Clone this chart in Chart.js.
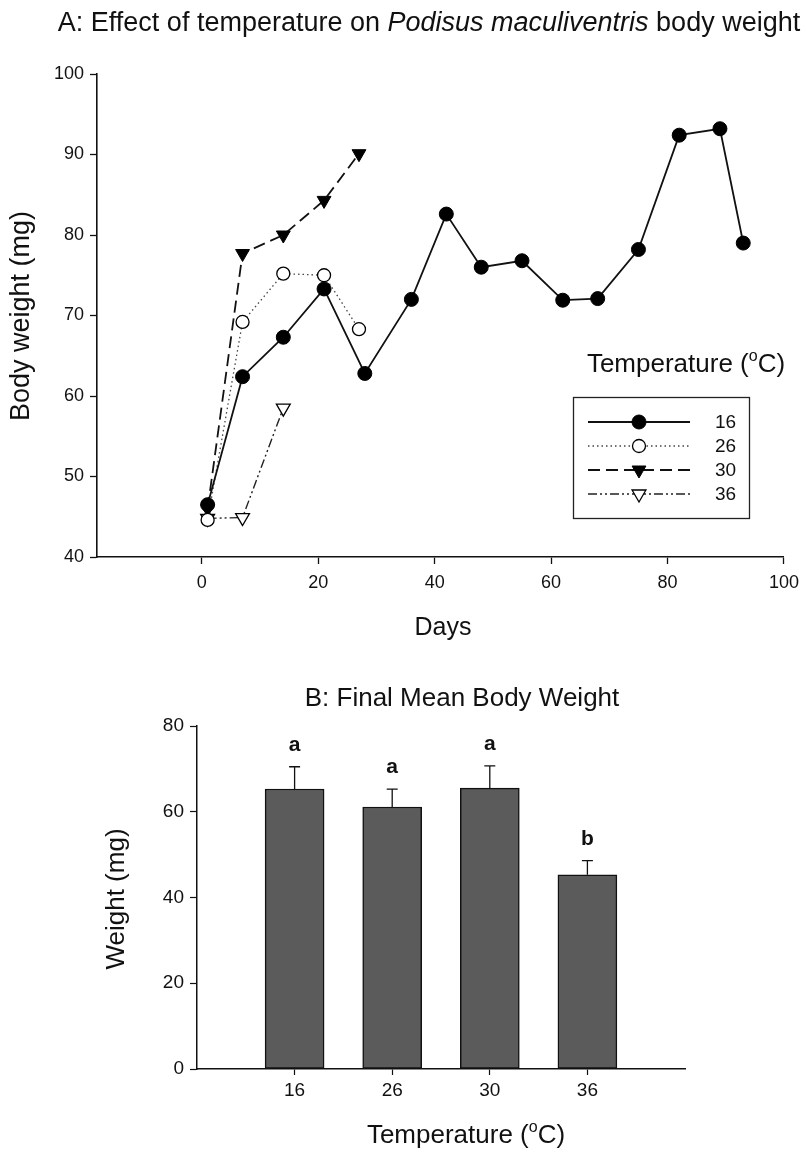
<!DOCTYPE html>
<html>
<head>
<meta charset="utf-8">
<script src="https://cdn.jsdelivr.net/npm/chart.js@4.4.1/dist/chart.umd.min.js"></script>
<style>
  html, body { margin: 0; padding: 0; background: #fff; }
  #wrap { position: relative; width: 807px; height: 1153px; }
  canvas { position: absolute; left: 0; }
  #cA { top: 0; }
  #cB { top: 660px; }
</style>
</head>
<body>
<div id="wrap">
  <canvas id="cA" width="807" height="660"></canvas>
  <canvas id="cB" width="807" height="493"></canvas>
</div>
<script>
// ---------- DATA ----------
const days16 = [1, 7, 14, 21, 28, 36, 42, 48, 55, 62, 68, 75, 82, 89, 93];
const weight16 = [46.5, 62.4, 67.3, 73.3, 62.8, 72.0, 82.6, 76.0, 76.8, 71.9, 72.1, 78.2, 92.4, 93.2, 79.0];
const days26 = [1, 7, 14, 21, 27];
const weight26 = [44.6, 69.2, 75.2, 75.0, 68.3];
const days30 = [1, 7, 14, 21, 27];
const weight30 = [46.0, 77.7, 80.0, 84.3, 90.1];
const days36 = [1, 7, 14];
const weight36 = [44.8, 44.9, 58.5];
const seriesLabels = ['16', '26', '30', '36'];

const xTicksA = [0, 20, 40, 60, 80, 100];
const yTicksA = [40, 50, 60, 70, 80, 90, 100];

const temps = ['16', '26', '30', '36'];
const meanWeight = [65.3, 61.1, 65.5, 45.3];
const seWeight = [5.2, 4.2, 5.2, 3.3];
const groupLetters = ['a', 'a', 'a', 'b'];
const yTicksB = [0, 20, 40, 60, 80];

// ---------- HELPERS ----------
const FONT = '"Liberation Sans", Arial, Helvetica, sans-serif';
Chart.defaults.font.family = FONT;
Chart.defaults.color = '#111';

function pts(xs, ys) { return xs.map((x, i) => ({ x: x, y: ys[i] })); }

function drawMarker(ctx, style, rotation, r, x, y, fill, stroke, lw) {
  ctx.save();
  ctx.beginPath();
  if (style === 'circle') {
    ctx.arc(x, y, r, 0, Math.PI * 2);
  } else {
    const rot = rotation * Math.PI / 180;
    for (let k = 0; k < 3; k++) {
      const a = rot + k * 2 * Math.PI / 3;
      const px = x + Math.sin(a) * r, py = y - Math.cos(a) * r;
      if (k === 0) ctx.moveTo(px, py); else ctx.lineTo(px, py);
    }
    ctx.closePath();
  }
  ctx.fillStyle = fill; ctx.fill();
  ctx.lineWidth = lw; ctx.strokeStyle = stroke; ctx.stroke();
  ctx.restore();
}

function drawSupText(ctx, pre, sup, post, cx, baseline, size) {
  ctx.save();
  ctx.textBaseline = 'alphabetic';
  ctx.textAlign = 'left';
  const f1 = size + 'px ' + FONT, f2 = Math.round(size * 0.62) + 'px ' + FONT;
  ctx.font = f1; const w1 = ctx.measureText(pre).width; const w3 = ctx.measureText(post).width;
  ctx.font = f2; const w2 = ctx.measureText(sup).width;
  let x = cx - (w1 + w2 + w3) / 2;
  ctx.fillStyle = '#111';
  ctx.font = f1; ctx.fillText(pre, x, baseline); x += w1;
  ctx.font = f2; ctx.fillText(sup, x, baseline - size * 0.42); x += w2;
  ctx.font = f1; ctx.fillText(post, x, baseline);
  ctx.restore();
}

function rotatedText(ctx, text, cx, cy, size) {
  ctx.save();
  ctx.translate(cx, cy);
  ctx.rotate(-Math.PI / 2);
  ctx.font = size + 'px ' + FONT;
  ctx.fillStyle = '#111';
  ctx.textAlign = 'center';
  ctx.textBaseline = 'middle';
  ctx.fillText(text, 0, 0);
  ctx.restore();
}

// ---------- CHART A ----------
const annotA = {
  id: 'annotA',
  afterDraw(chart) {
    const ctx = chart.ctx;
    const parts = [['A: Effect of temperature on ', 'normal'], ['Podisus maculiventris', 'italic'], [' body weight', 'normal']];
    const size = 27;
    ctx.save();
    ctx.fillStyle = '#111';
    ctx.textBaseline = 'alphabetic';
    ctx.textAlign = 'left';
    let total = 0;
    parts.forEach(p => { ctx.font = p[1] + ' ' + size + 'px ' + FONT; total += ctx.measureText(p[0]).width; });
    let x = 429 - total / 2;
    parts.forEach(p => { ctx.font = p[1] + ' ' + size + 'px ' + FONT; ctx.fillText(p[0], x, 31); x += ctx.measureText(p[0]).width; });
    ctx.font = '25px ' + FONT;
    ctx.textAlign = 'center';
    ctx.textBaseline = 'middle';
    ctx.fillText('Days', 443, 628);
    ctx.restore();
    rotatedText(ctx, 'Body weight (mg)', 22, 316, 27);
    drawSupText(ctx, 'Temperature (', 'o', 'C)', 686, 372, 26);
    ctx.save();
    ctx.strokeStyle = '#222'; ctx.lineWidth = 1.3;
    ctx.strokeRect(573.5, 397.5, 176, 121);
    const rows = [422, 446, 470, 494];
    chart.data.datasets.forEach((ds, i) => {
      const y = rows[i];
      ctx.save();
      ctx.strokeStyle = ds.borderColor; ctx.lineWidth = ds.borderWidth;
      ctx.setLineDash(ds.borderDash || []);
      ctx.beginPath(); ctx.moveTo(588, y); ctx.lineTo(690, y); ctx.stroke();
      ctx.restore();
      drawMarker(ctx, ds.pointStyle, ds.pointRotation || 0, ds.pointRadius, 639, y,
                 ds.pointBackgroundColor, ds.pointBorderColor, ds.pointBorderWidth);
      ctx.font = '19px ' + FONT; ctx.fillStyle = '#111';
      ctx.textAlign = 'left'; ctx.textBaseline = 'middle';
      ctx.fillText(ds.label, 715, y + 1);
    });
    ctx.restore();
  }
};

const commonLine = { fill: false, tension: 0, pointBorderColor: '#000' };

new Chart(document.getElementById('cA'), {
  type: 'line',
  data: {
    datasets: [
      Object.assign({}, commonLine, { label: seriesLabels[0], data: pts(days16, weight16), borderColor: '#111', borderWidth: 1.8,
        pointStyle: 'circle', pointRadius: 7, pointBackgroundColor: '#000', pointBorderWidth: 1 }),
      Object.assign({}, commonLine, { label: seriesLabels[1], data: pts(days26, weight26), borderColor: '#444', borderWidth: 1.3, borderDash: [1.5, 3],
        pointStyle: 'circle', pointRadius: 6.5, pointBackgroundColor: '#fff', pointBorderWidth: 1.3 }),
      Object.assign({}, commonLine, { label: seriesLabels[2], data: pts(days30, weight30), borderColor: '#111', borderWidth: 1.8, borderDash: [12, 6],
        pointStyle: 'triangle', pointRotation: 180, pointRadius: 8, pointBackgroundColor: '#000', pointBorderWidth: 1 }),
      Object.assign({}, commonLine, { label: seriesLabels[3], data: pts(days36, weight36), borderColor: '#222', borderWidth: 1.4, borderDash: [9, 3, 2, 3, 2, 3],
        pointStyle: 'triangle', pointRotation: 180, pointRadius: 8, pointBackgroundColor: '#fff', pointBorderWidth: 1.3 })
    ]
  },
  options: {
    responsive: false, animation: false, devicePixelRatio: 1,
    layout: { padding: { left: 0, right: 18, top: 74, bottom: 0 } },
    plugins: { legend: { display: false }, tooltip: { enabled: false }, title: { display: false } },
    scales: {
      x: {
        type: 'linear', min: -18, max: 100,
        afterBuildTicks: s => { s.ticks = xTicksA.map(v => ({ value: v })); },
        afterFit: s => { s.height = 103; },
        grid: { drawOnChartArea: false, drawTicks: true, tickLength: 7, tickColor: '#111', tickWidth: 1.3 },
        border: { display: true, color: '#111', width: 1.6 },
        ticks: { font: { size: 18 }, color: '#111', padding: 8, maxRotation: 0 }
      },
      y: {
        type: 'linear', min: 40, max: 100,
        afterBuildTicks: s => { s.ticks = yTicksA.map(v => ({ value: v })); },
        afterFit: s => { s.width = 97; },
        grid: { drawOnChartArea: false, drawTicks: true, tickLength: 7, tickColor: '#111', tickWidth: 1.3 },
        border: { display: true, color: '#111', width: 1.6 },
        ticks: { font: { size: 18 }, color: '#111', padding: 6 }
      }
    }
  },
  plugins: [annotA]
});

// ---------- CHART B ----------
const annotB = {
  id: 'annotB',
  afterDatasetsDraw(chart) {
    const ctx = chart.ctx;
    const meta = chart.getDatasetMeta(0);
    const ys = chart.scales.y;
    ctx.save();
    meta.data.forEach((bar, i) => {
      const top = ys.getPixelForValue(meanWeight[i]);
      const et = ys.getPixelForValue(meanWeight[i] + seWeight[i]);
      ctx.strokeStyle = '#111'; ctx.lineWidth = 1.3;
      ctx.beginPath();
      ctx.moveTo(bar.x, top); ctx.lineTo(bar.x, et);
      ctx.moveTo(bar.x - 5.5, et); ctx.lineTo(bar.x + 5.5, et);
      ctx.stroke();
      ctx.font = 'bold 21px ' + FONT; ctx.fillStyle = '#111';
      ctx.textAlign = 'center'; ctx.textBaseline = 'alphabetic';
      ctx.fillText(groupLetters[i], bar.x, et - 16);
    });
    ctx.restore();
  },
  afterDraw(chart) {
    const ctx = chart.ctx;
    ctx.save();
    ctx.font = '26px ' + FONT; ctx.fillStyle = '#111';
    ctx.textAlign = 'center'; ctx.textBaseline = 'alphabetic';
    ctx.fillText('B: Final Mean Body Weight', 462, 46);
    ctx.restore();
    rotatedText(ctx, 'Weight (mg)', 117, 239, 26);
    drawSupText(ctx, 'Temperature (', 'o', 'C)', 466, 483, 26);
  }
};

new Chart(document.getElementById('cB'), {
  type: 'bar',
  data: {
    datasets: [{
      label: 'Weight',
      data: temps.map((t, i) => ({ x: i + 1, y: meanWeight[i] })),
      backgroundColor: '#5b5b5b', borderColor: '#111', borderWidth: 1.5,
      barThickness: 59, borderSkipped: false
    }]
  },
  options: {
    responsive: false, animation: false, devicePixelRatio: 1,
    layout: { padding: { left: 0, right: 122, top: 66, bottom: 0 } },
    plugins: { legend: { display: false }, tooltip: { enabled: false }, title: { display: false } },
    scales: {
      x: {
        type: 'linear', min: 0, max: 5, offset: false,
        afterBuildTicks: s => { s.ticks = temps.map((t, i) => ({ value: i + 1 })); },
        afterFit: s => { s.height = 84; },
        grid: { offset: false, drawOnChartArea: false, drawTicks: true, tickLength: 6, tickColor: '#111', tickWidth: 1.2 },
        border: { display: true, color: '#111', width: 1.5 },
        ticks: { font: { size: 19 }, color: '#111', padding: 4, maxRotation: 0,
                 callback: v => temps[v - 1] }
      },
      y: {
        type: 'linear', min: 0, max: 80,
        afterBuildTicks: s => { s.ticks = yTicksB.map(v => ({ value: v })); },
        afterFit: s => { s.width = 197; },
        grid: { drawOnChartArea: false, drawTicks: true, tickLength: 7, tickColor: '#111', tickWidth: 1.2 },
        border: { display: true, color: '#111', width: 1.5 },
        ticks: { font: { size: 19 }, color: '#111', padding: 6 }
      }
    }
  },
  plugins: [annotB]
});
</script>
</body>
</html>
